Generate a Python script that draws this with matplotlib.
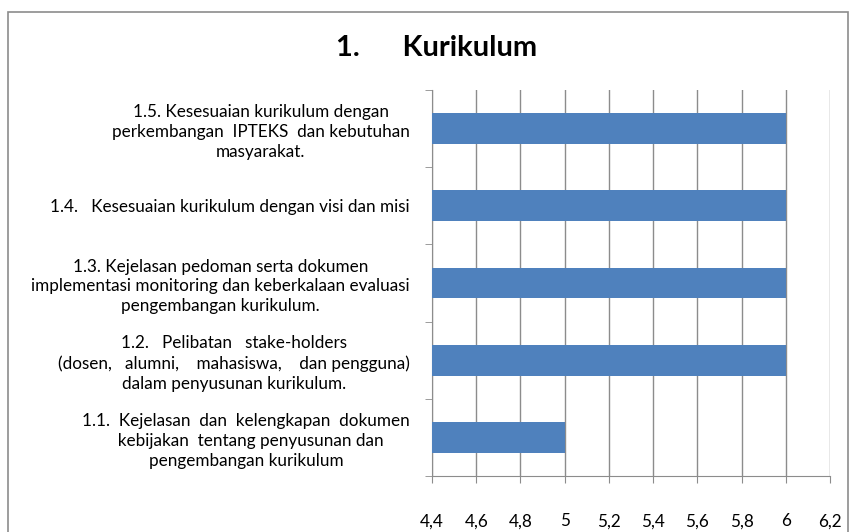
import matplotlib.pyplot as plt
from matplotlib.patches import Rectangle
from matplotlib.ticker import MultipleLocator, FuncFormatter

plt.rcParams["font.family"] = ["Lato", "DejaVu Sans"]

categories = [
    "1.1.  Kejelasan  dan  kelengkapan  dokumen\n  kebijakan  tentang penyusunan dan\npengembangan kurikulum",
    "1.2.   Pelibatan   stake-holders\n(dosen,   alumni,    mahasiswa,    dan pengguna)\ndalam penyusunan kurikulum.",
    "1.3. Kejelasan pedoman serta dokumen\nimplementasi monitoring dan keberkalaan evaluasi\npengembangan kurikulum.",
    "1.4.   Kesesuaian kurikulum dengan visi dan misi",
    "1.5. Kesesuaian kurikulum dengan\nperkembangan  IPTEKS  dan kebutuhan\nmasyarakat.",
]
values = [5, 6, 6, 6, 6]
x_min, x_max, x_step = 4.4, 6.2, 0.2

fig = plt.figure(figsize=(8.51, 5.32), dpi=100)
ax = fig.add_axes([0.5076, 0.1053, 0.4677, 0.7255])

ypos = list(range(len(categories)))
ax.barh(ypos, [v - x_min for v in values], left=x_min, height=0.4,
        color="#4F81BD", zorder=3)

ax.set_xlim(x_min, x_max)
ax.set_ylim(-0.5, len(categories) - 0.5)
ax.xaxis.set_major_locator(MultipleLocator(x_step))
ax.xaxis.set_major_formatter(FuncFormatter(
    lambda v, p: f"{v:.1f}".rstrip("0").rstrip(".").replace(".", ",")))
ax.grid(axis="x", color="#8c8c8c", linewidth=1, zorder=0)

ax.set_yticks(ypos)
ax.set_yticklabels(categories, fontsize=12.3, linespacing=1.3)
for t in ax.get_yticklabels():
    t.set_multialignment("center")
ax.set_yticks([y - 0.5 for y in range(len(categories) + 1)], minor=True)
ax.tick_params(axis="y", which="major", length=0, pad=16)
ax.tick_params(axis="y", which="minor", length=5, color="#8c8c8c")
ax.tick_params(axis="x", length=5, color="#8c8c8c", labelsize=12.3, pad=22)

for s in ["top", "right"]:
    ax.spines[s].set_visible(False)
ax.spines["left"].set_color("#8c8c8c")
ax.spines["bottom"].set_color("#8c8c8c")

fig.text(0.513, 0.91, "1.      Kurikulum", ha="center", va="center",
         fontsize=21, fontweight="bold")

fig.patches.append(Rectangle((8 / 851, -0.1), 840 / 851, 1.1 - 12 / 532,
                             transform=fig.transFigure, fill=False,
                             edgecolor="#8c8c8c", linewidth=1.2))

fig.savefig("out.png", dpi=100)
